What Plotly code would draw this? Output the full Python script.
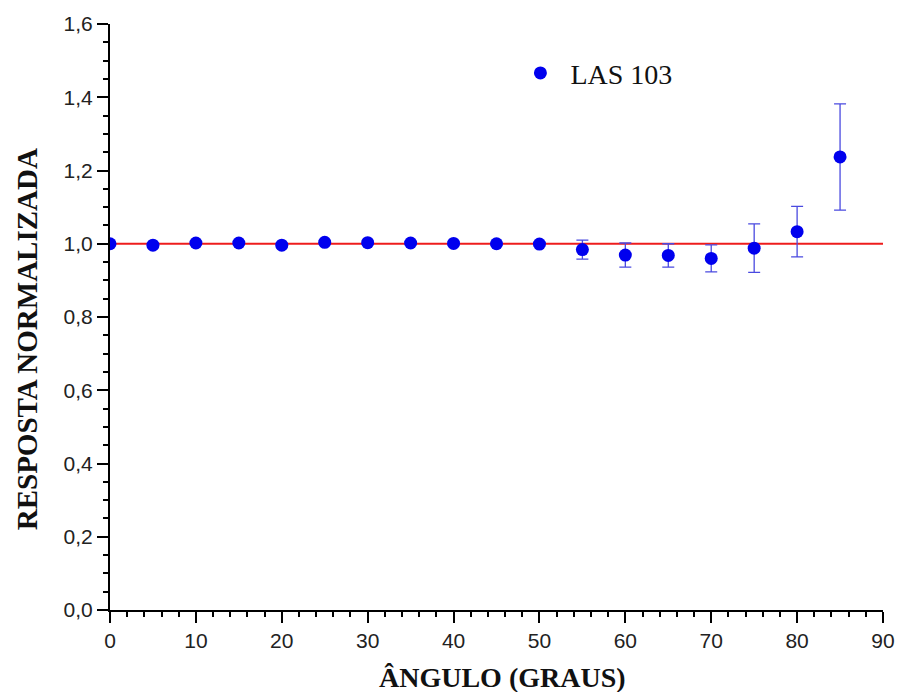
import plotly.graph_objects as go

angles = [0, 5, 10, 15, 20, 25, 30, 35, 40, 45, 50, 55, 60, 65, 70, 75, 80, 85]
response = [1.000, 0.996, 1.002, 1.002, 0.996, 1.004, 1.003, 1.002, 1.001, 1.000, 0.999,
            0.984, 0.969, 0.968, 0.960, 0.988, 1.033, 1.237]
errors = [0.004, 0.004, 0.004, 0.004, 0.004, 0.004, 0.004, 0.004, 0.004, 0.004, 0.005,
          0.026, 0.033, 0.032, 0.037, 0.066, 0.069, 0.145]
ref_x = [0, 90]
ref_y = [1.0, 1.0]
x_title = "ÂNGULO (GRAUS)"
y_title = "RESPOSTA NORMALIZADA"

serif = "Liberation Serif, Times New Roman, serif"
sans = "Liberation Sans, Arial, sans-serif"

fig = go.Figure()
fig.add_trace(go.Scatter(
    x=ref_x, y=ref_y, mode="lines", line=dict(color="#ee1c1c", width=1.8),
    showlegend=False, hoverinfo="skip"))
fig.add_trace(go.Scatter(
    x=angles, y=response, mode="markers", name="LAS 103",
    marker=dict(color="#0000ee", size=13, symbol="circle"),
    error_y=dict(type="data", array=errors, visible=True, color="#4a4ae0",
                 thickness=1.3, width=6)))

axis_common = dict(showline=True, linecolor="black", linewidth=2, ticks="outside",
                   tickcolor="black", tickwidth=2, ticklen=11, showgrid=False,
                   zeroline=False, mirror=False, automargin=False,
                   tickfont=dict(family=sans, size=21, color="#222"))

fig.update_layout(
    width=898, height=692,
    margin=dict(l=110, r=15, t=24, b=82),
    paper_bgcolor="white", plot_bgcolor="white",
    separators=",.",
    xaxis=dict(range=[0, 90], dtick=10, tick0=0,
               minor=dict(dtick=2, ticklen=5, tickwidth=2, tickcolor="black", ticks="outside"),
               **axis_common),
    yaxis=dict(range=[0, 1.6], dtick=0.2, tick0=0, tickformat=".1f",
               minor=dict(dtick=0.05, ticklen=5, tickwidth=2, tickcolor="black", ticks="outside"),
               **axis_common),
    legend=dict(x=0.518, y=0.916, xanchor="left", yanchor="middle", bgcolor="rgba(0,0,0,0)",
                itemwidth=50,
                font=dict(family=serif, size=28, color="#111")),
    annotations=[
        dict(text="<b>" + x_title + "</b>", xref="paper", yref="paper", x=0.508, y=-0.116,
             xanchor="center", yanchor="middle", showarrow=False,
             font=dict(family=serif, size=28, color="#111")),
        dict(text="<b>" + y_title + "</b>", xref="paper", yref="paper", x=-0.107, y=0.4625,
             xanchor="center", yanchor="middle", showarrow=False, textangle=-90,
             font=dict(family=serif, size=29, color="#111")),
    ],
)

fig.write_html("out.html", config={"displayModeBar": False},
               post_script="document.body.style.margin='0px';document.body.style.overflow='hidden';")
